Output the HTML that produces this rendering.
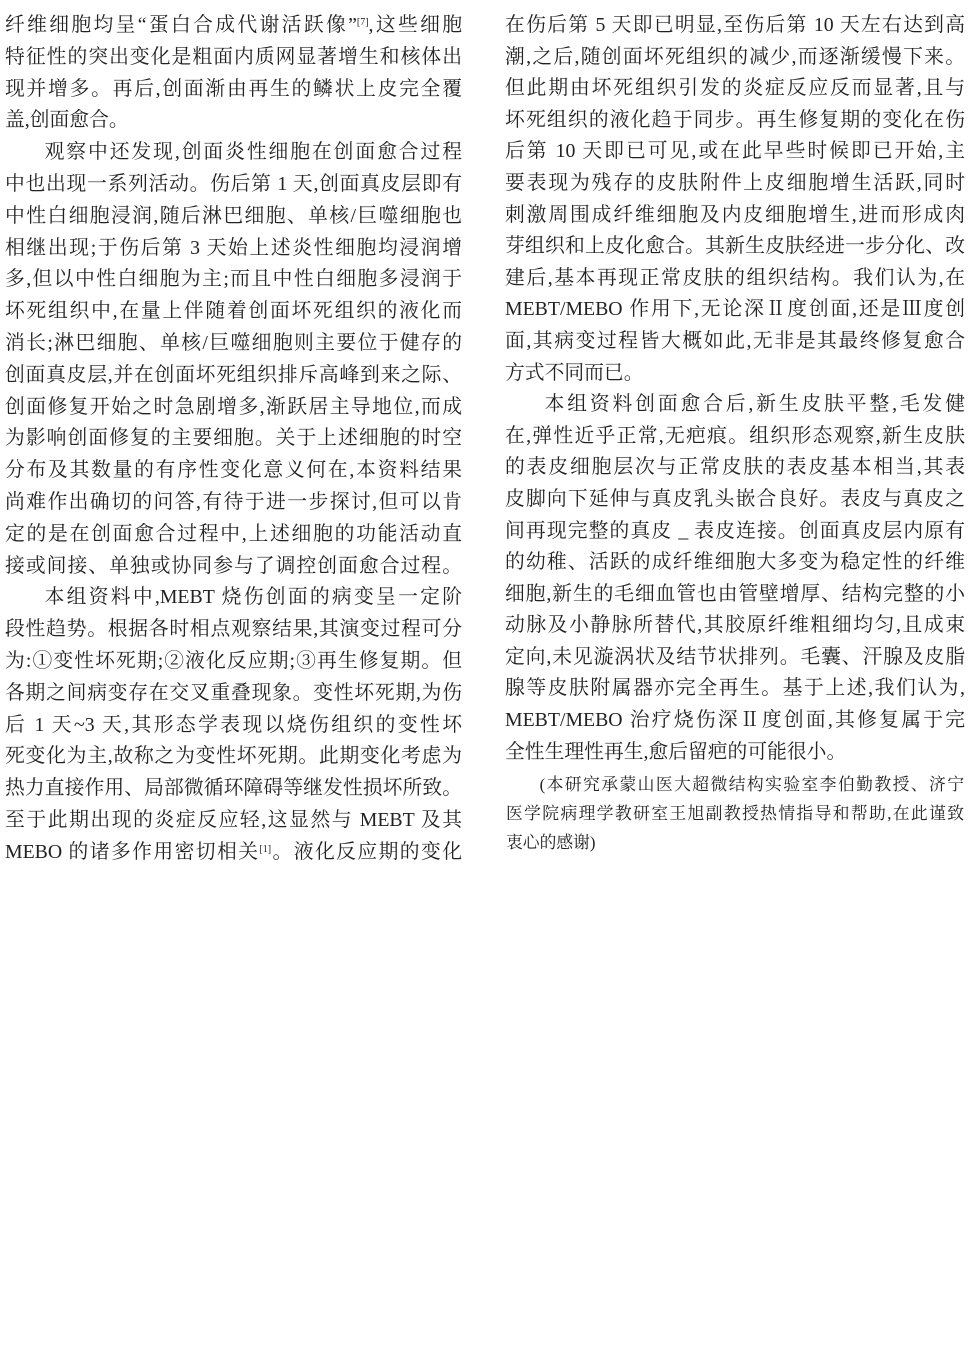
<!DOCTYPE html>
<html><head><meta charset="utf-8"><style>
html,body{margin:0;padding:0;background:#fff;}
body{width:970px;height:1372px;position:relative;overflow:hidden;font-family:"Liberation Serif","Noto Serif CJK SC",serif;color:#222;}
.col{position:absolute;top:10px;font-size:19.8px;}
.l{width:457px;left:5px;line-height:31.8px;}
.r{width:460px;left:505px;line-height:31.6px;}
.col div{text-align:justify;text-align-last:justify;white-space:nowrap;height:inherit;}
.col div.e{text-align-last:left;}
.col div.i{padding-left:2em;}
sup{font-size:10px;vertical-align:6px;line-height:0;}
.ack{position:absolute;left:506px;top:770px;width:458px;font-size:16.8px;line-height:29px;}
.ack div{text-align:justify;text-align-last:justify;white-space:nowrap;}
.ack div.e{text-align-last:left;}
</style></head><body>
<div class="col l">
<div>纤维细胞均呈“蛋白合成代谢活跃像”<sup>[7]</sup>,这些细胞</div>
<div>特征性的突出变化是粗面内质网显著增生和核体出</div>
<div>现并增多。再后,创面渐由再生的鳞状上皮完全覆</div>
<div class="e">盖,创面愈合。</div>
<div class="i">观察中还发现,创面炎性细胞在创面愈合过程</div>
<div>中也出现一系列活动。伤后第 1 天,创面真皮层即有</div>
<div>中性白细胞浸润,随后淋巴细胞、单核/巨噬细胞也</div>
<div>相继出现;于伤后第 3 天始上述炎性细胞均浸润增</div>
<div>多,但以中性白细胞为主;而且中性白细胞多浸润于</div>
<div>坏死组织中,在量上伴随着创面坏死组织的液化而</div>
<div>消长;淋巴细胞、单核/巨噬细胞则主要位于健存的</div>
<div>创面真皮层,并在创面坏死组织排斥高峰到来之际、</div>
<div>创面修复开始之时急剧增多,渐跃居主导地位,而成</div>
<div>为影响创面修复的主要细胞。关于上述细胞的时空</div>
<div>分布及其数量的有序性变化意义何在,本资料结果</div>
<div>尚难作出确切的问答,有待于进一步探讨,但可以肯</div>
<div>定的是在创面愈合过程中,上述细胞的功能活动直</div>
<div>接或间接、单独或协同参与了调控创面愈合过程。</div>
<div class="i">本组资料中,MEBT 烧伤创面的病变呈一定阶</div>
<div>段性趋势。根据各时相点观察结果,其演变过程可分</div>
<div>为:①变性坏死期;②液化反应期;③再生修复期。但</div>
<div>各期之间病变存在交叉重叠现象。变性坏死期,为伤</div>
<div>后 1 天~3 天,其形态学表现以烧伤组织的变性坏</div>
<div>死变化为主,故称之为变性坏死期。此期变化考虑为</div>
<div>热力直接作用、局部微循环障碍等继发性损坏所致。</div>
<div>至于此期出现的炎症反应轻,这显然与 MEBT 及其</div>
<div>MEBO 的诸多作用密切相关<sup>[1]</sup>。液化反应期的变化</div>
</div>
<div class="col r">
<div>在伤后第 5 天即已明显,至伤后第 10 天左右达到高</div>
<div>潮,之后,随创面坏死组织的减少,而逐渐缓慢下来。</div>
<div>但此期由坏死组织引发的炎症反应反而显著,且与</div>
<div>坏死组织的液化趋于同步。再生修复期的变化在伤</div>
<div>后第 10 天即已可见,或在此早些时候即已开始,主</div>
<div>要表现为残存的皮肤附件上皮细胞增生活跃,同时</div>
<div>刺激周围成纤维细胞及内皮细胞增生,进而形成肉</div>
<div>芽组织和上皮化愈合。其新生皮肤经进一步分化、改</div>
<div>建后,基本再现正常皮肤的组织结构。我们认为,在</div>
<div>MEBT/MEBO 作用下,无论深Ⅱ度创面,还是Ⅲ度创</div>
<div>面,其病变过程皆大概如此,无非是其最终修复愈合</div>
<div class="e">方式不同而已。</div>
<div class="i">本组资料创面愈合后,新生皮肤平整,毛发健</div>
<div>在,弹性近乎正常,无疤痕。组织形态观察,新生皮肤</div>
<div>的表皮细胞层次与正常皮肤的表皮基本相当,其表</div>
<div>皮脚向下延伸与真皮乳头嵌合良好。表皮与真皮之</div>
<div>间再现完整的真皮 _ 表皮连接。创面真皮层内原有</div>
<div>的幼稚、活跃的成纤维细胞大多变为稳定性的纤维</div>
<div>细胞,新生的毛细血管也由管壁增厚、结构完整的小</div>
<div>动脉及小静脉所替代,其胶原纤维粗细均匀,且成束</div>
<div>定向,未见漩涡状及结节状排列。毛囊、汗腺及皮脂</div>
<div>腺等皮肤附属器亦完全再生。基于上述,我们认为,</div>
<div>MEBT/MEBO 治疗烧伤深Ⅱ度创面,其修复属于完</div>
<div class="e">全性生理性再生,愈后留疤的可能很小。</div>
</div>
<div class="ack">
<div style="padding-left:2em">(本研究承蒙山医大超微结构实验室李伯勤教授、济宁</div>
<div>医学院病理学教研室王旭副教授热情指导和帮助,在此谨致</div>
<div class="e">衷心的感谢)</div>
</div>
</body></html>
